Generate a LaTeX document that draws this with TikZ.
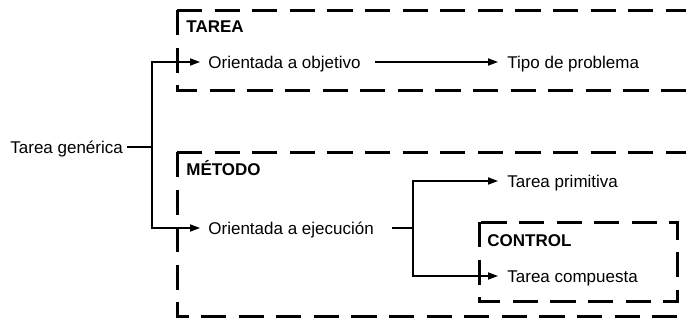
\documentclass[tikz,border=0pt]{standalone}
\usepackage{fontspec}
\setmainfont{Liberation Sans}
\usetikzlibrary{arrows.meta}

\begin{document}
\begin{tikzpicture}[
    x=0.5pt, y=-0.5pt,
    txt/.style={inner sep=0pt, text height=6.1pt, text depth=0.1pt, anchor=west, font=\fontsize{8.5}{10}\selectfont},
    lbl/.style={txt, font=\fontsize{8.5}{10}\selectfont\bfseries},
    frame/.style={line width=1.5pt, dash pattern=on 12.6pt off 6.2pt},
    conn/.style={line width=0.55pt},
    arr/.style={conn, -{Triangle[length=5pt, width=3.6pt]}},
  ]
  \useasboundingbox (0,0) rectangle (686,322);

  \draw[frame] (177,10) -- (700,10);
  \draw[frame] (177,10) -- (177,90) -- (700,90);
  \draw[frame] (177,152) -- (700,152);
  \draw[frame] (177,152) -- (177,316) -- (700,316);
  \draw[frame] (479,222) rectangle (677,301);

  \node[lbl] (tarea) at (186,26) {TAREA};
  \node[lbl] (metodo) at (186,169) {MÉTODO};
  \node[lbl] (control) at (487,240) {CONTROL};

  \node[txt] (generica) at (10,147) {Tarea genérica};
  \coordinate (fork1) at (152,147);
  \node[txt] (objetivo) at (208,62) {Orientada a objetivo};
  \node[txt] (tipo) at (507,62) {Tipo de problema};
  \node[txt] (ejecucion) at (208,228) {Orientada a ejecución};
  \coordinate (fork2) at (413,228);
  \node[txt] (primitiva) at (507,181) {Tarea primitiva};
  \node[txt] (compuesta) at (507,276) {Tarea compuesta};

  \draw[conn, shorten <=2pt] (generica.east) -- (fork1);
  \draw[arr, shorten >=4pt] (fork1) |- (objetivo.west);
  \draw[arr, shorten >=4pt] (fork1) |- (ejecucion.west);
  \draw[arr, shorten <=7pt, shorten >=4.5pt] (objetivo.east) -- (tipo.west);
  \draw[conn, shorten <=9pt] (ejecucion.east) -- (fork2);
  \draw[arr, shorten >=4.5pt] (fork2) |- (primitiva.west);
  \draw[arr, shorten >=4.5pt] (fork2) |- (compuesta.west);
\end{tikzpicture}
\end{document}
